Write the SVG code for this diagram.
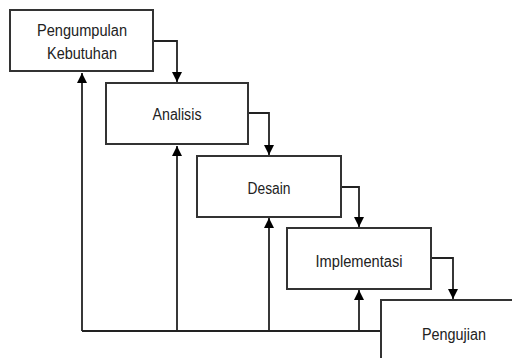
<svg xmlns="http://www.w3.org/2000/svg" width="512" height="358" viewBox="0 0 512 358">
<style>
.box{fill:#fff;stroke:#333;stroke-width:2}
.lbl{font-family:"Liberation Sans","Open Sans",sans-serif;font-size:16px;fill:#222;text-anchor:middle}
.ln{fill:none;stroke:#222;stroke-width:1.8}
</style>
<defs>
<marker id="ah" markerUnits="userSpaceOnUse" markerWidth="10" markerHeight="10" refX="10" refY="5" orient="auto" viewBox="0 0 10 10">
<path d="M0,0 L10,5 L0,10 z" fill="#000"/>
</marker>
</defs>
<rect width="512" height="358" fill="#fff"/>
<g id="connectors">
<path class="ln" d="M153,41 H177 V82" marker-end="url(#ah)"/>
<path class="ln" d="M248,113 H269 V155" marker-end="url(#ah)"/>
<path class="ln" d="M341,187 H359 V227" marker-end="url(#ah)"/>
<path class="ln" d="M431,258 H453 V299" marker-end="url(#ah)"/>
<path class="ln" d="M381,331 H82"/>
<path class="ln" d="M82,331 V73" marker-end="url(#ah)"/>
<path class="ln" d="M177,331 V146" marker-end="url(#ah)"/>
<path class="ln" d="M269,331 V218" marker-end="url(#ah)"/>
<path class="ln" d="M359,331 V290" marker-end="url(#ah)"/>
</g>
<g id="n1">
<rect class="box" x="10" y="10" width="143" height="61"/>
<text class="lbl" x="82" y="36" textLength="90" lengthAdjust="spacingAndGlyphs">Pengumpulan</text>
<text class="lbl" x="82" y="59" textLength="70" lengthAdjust="spacingAndGlyphs">Kebutuhan</text>
</g>
<g id="n2">
<rect class="box" x="106" y="83" width="142" height="61"/>
<text class="lbl" x="177" y="120" textLength="49" lengthAdjust="spacingAndGlyphs">Analisis</text>
</g>
<g id="n3">
<rect class="box" x="197" y="156" width="144" height="61"/>
<text class="lbl" x="269" y="194" textLength="43" lengthAdjust="spacingAndGlyphs">Desain</text>
</g>
<g id="n4">
<rect class="box" x="287" y="228" width="144" height="61"/>
<text class="lbl" x="359" y="267" textLength="87" lengthAdjust="spacingAndGlyphs">Implementasi</text>
</g>
<g id="n5">
<rect class="box" x="381" y="300" width="144" height="61"/>
<text class="lbl" x="454" y="340" textLength="64" lengthAdjust="spacingAndGlyphs">Pengujian</text>
</g>
</svg>
